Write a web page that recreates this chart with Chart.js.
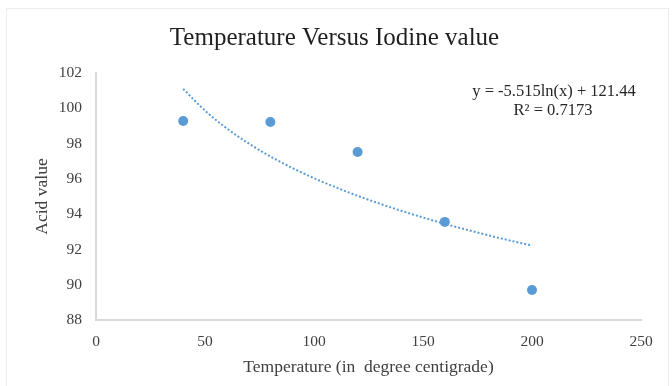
<!DOCTYPE html>
<html>
<head>
<meta charset="utf-8">
<script src="https://cdn.jsdelivr.net/npm/chart.js@4.4.1/dist/chart.umd.min.js"></script>
<style>
  html, body { margin: 0; padding: 0; background: #fff; }
  #wrap { position: relative; width: 672px; height: 386px; }
  #frame { position: absolute; left: 6px; top: 8px; width: 661px; height: 400px; border: 1px solid #ececec; pointer-events: none; }
</style>
</head>
<body>
<div id="wrap">
  <canvas id="c" width="672" height="386"></canvas>
  <div id="frame"></div>
</div>
<script>
const chartTitle = "Temperature Versus Iodine value";
const xAxisTitle = "Temperature (in  degree centigrade)";
const yAxisTitle = "Acid value";
const equationLines = ["y = -5.515ln(x) + 121.44", "R\u00B2 = 0.7173"];

const temperatures = [40, 80, 120, 160, 200];
const acidValues = [99.28, 99.22, 97.52, 93.56, 89.70];

const trendX = [40, 50, 60, 70, 80, 90, 100, 110, 120, 130, 140, 150, 160, 170, 180, 190, 200];
const trendY = [101.10, 99.87, 98.86, 98.01, 97.27, 96.62, 96.04, 95.52, 95.04, 94.60, 94.19, 93.81, 93.45, 93.12, 92.80, 92.50, 92.22];

const xMin = 0, xMax = 250, xStep = 50;
const yMin = 88, yMax = 102, yStep = 2;

const blue = '#5b9bd5';
const serif = "'Liberation Serif', 'Times New Roman', serif";

const equationPlugin = {
  id: 'equation',
  afterDatasetsDraw(chart) {
    const ctx = chart.ctx;
    ctx.save();
    ctx.font = "16.5px " + serif;
    ctx.fillStyle = '#262626';
    ctx.textAlign = 'center';
    ctx.textBaseline = 'middle';
    ctx.fillText(equationLines[0], 554, 92);
    ctx.fillText(equationLines[1], 553, 111);
    ctx.restore();
  }
};

new Chart(document.getElementById('c'), {
  type: 'scatter',
  data: {
    datasets: [
      {
        label: 'Acid value',
        data: temperatures.map((t, i) => ({x: t, y: acidValues[i]})),
        backgroundColor: blue,
        borderColor: blue,
        borderWidth: 0,
        pointRadius: 5,
        showLine: false
      },
      {
        label: 'Log trend',
        data: trendX.map((t, i) => ({x: t, y: trendY[i]})),
        showLine: true,
        borderColor: blue,
        borderWidth: 2,
        borderDash: [2, 2],
        pointRadius: 0,
        cubicInterpolationMode: 'monotone',
        fill: false
      }
    ]
  },
  options: {
    responsive: false,
    animation: false,
    events: [],
    layout: { padding: { left: 28, right: 31, top: 0, bottom: 0 } },
    plugins: {
      legend: { display: false },
      tooltip: { enabled: false },
      title: {
        display: true,
        text: chartTitle,
        color: '#1f1f1f',
        font: { family: serif, size: 25, weight: 'normal' },
        padding: { top: 23, bottom: 20 }
      }
    },
    scales: {
      x: {
        type: 'linear',
        min: xMin, max: xMax,
        afterFit(scale) { scale.height = 66; },
        grid: { display: true, drawOnChartArea: false, drawTicks: false },
        border: { display: true, color: '#d9d9d9', width: 2 },
        ticks: {
          stepSize: xStep,
          padding: 13,
          color: '#404040',
          font: { family: serif, size: 15.5 },
          maxRotation: 0
        },
        title: {
          display: true,
          text: xAxisTitle,
          color: '#404040',
          font: { family: serif, size: 17.5 },
          padding: { top: 0, bottom: 8 }
        }
      },
      y: {
        type: 'linear',
        min: yMin, max: yMax,
        afterFit(scale) { scale.width = 68; },
        grid: { display: true, drawOnChartArea: false, drawTicks: false },
        border: { display: true, color: '#d9d9d9', width: 2 },
        ticks: {
          stepSize: yStep,
          padding: 14,
          color: '#404040',
          font: { family: serif, size: 15.5 }
        },
        title: {
          display: true,
          text: yAxisTitle,
          color: '#404040',
          font: { family: serif, size: 17.5 },
          padding: { top: 3.5, bottom: 0 }
        }
      }
    }
  },
  plugins: [equationPlugin]
});
</script>
</body>
</html>
